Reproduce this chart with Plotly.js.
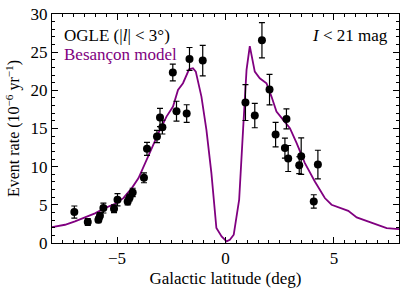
<!DOCTYPE html>
<html>
<head>
<meta charset="utf-8">
<script src="https://cdn.plot.ly/plotly-3.0.1.min.js"></script>
<style>html,body{margin:0;padding:0;background:#fff;}#chart{width:407px;height:294px;}</style>
</head>
<body>
<div id="chart"></div>
<script>
// OGLE measurements
const ogleLatitude = [-6.97,-6.35,-5.86,-5.79,-5.63,-5.14,-4.98,-4.51,-4.42,-4.28,-3.76,-3.62,-3.16,-3.02,-2.91,-2.43,-2.26,-1.79,-1.66,-1.05,0.92,1.35,1.68,2.03,2.31,2.74,2.81,2.89,3.40,3.49,4.07,4.26];
const ogleRate = [4.05,2.75,3.05,3.57,4.58,4.49,5.67,5.45,5.97,6.62,8.54,12.34,13.95,16.44,15.18,22.33,17.27,16.96,24.11,23.9,18.4,16.7,26.56,20.1,14.2,12.43,16.26,11.07,10.2,11.38,5.45,10.27];
const ogleError = [0.8,0.45,0.4,0.4,0.65,0.5,0.8,0.45,0.45,0.55,0.65,0.85,0.8,1.2,0.9,1.1,1.3,1.15,1.5,2.0,2.35,1.6,2.3,2.0,1.6,1.3,1.3,1.7,1.1,2.4,0.87,1.88];

// Besançon model curve
const modelLatitude = [-8.0,-7.4,-6.94,-6.48,-6.02,-5.56,-5.09,-4.71,-4.32,-4.01,-3.71,-3.49,-3.03,-2.72,-2.42,-2.19,-1.96,-1.68,-1.5,-1.37,-1.11,-0.88,-0.65,-0.42,-0.18,0.05,0.2,0.38,0.63,0.81,0.97,1.12,1.35,1.58,1.89,2.12,2.35,2.66,2.97,3.28,3.66,4.12,4.58,4.89,5.27,5.66,6.05,6.43,6.81,7.2,7.43,8.0];
const modelRate = [2.09,2.39,2.83,3.31,3.88,4.57,5.14,5.88,7.19,8.5,10.47,11.9,14.8,16.56,17.87,20.06,20.93,22.76,22.9,22.45,19.18,14.82,9.16,1.96,0.86,0.21,0.43,1.09,5.67,14.82,22.67,25.8,22.45,21.58,20.93,19.18,17.22,16.13,15.04,13.08,10.47,8.06,5.89,5.01,4.58,4.22,3.35,2.96,2.62,2.17,1.96,1.83];

const xTickVals = [-5, 0, 5];
const yTickVals = [0, 5, 10, 15, 20, 25, 30];

const FONT = "Liberation Serif, DejaVu Serif, serif";

const traces = [
  {
    x: modelLatitude, y: modelRate, type: 'scatter', mode: 'lines',
    line: {color: '#800080', width: 1.8}, name: 'Besançon model', hoverinfo: 'skip'
  },
  {
    x: ogleLatitude, y: ogleRate, type: 'scatter', mode: 'markers',
    marker: {color: '#000000', size: 8},
    error_y: {type: 'data', array: ogleError, visible: true, color: '#000000', thickness: 1.2, width: 3},
    name: 'OGLE'
  }
];

const axisCommon = {
  showline: true, linecolor: '#000', linewidth: 1, mirror: 'ticks',
  ticks: 'inside', ticklen: 6, tickwidth: 1, tickcolor: '#000',
  showgrid: false, zeroline: false,
  tickfont: {family: FONT, size: 17, color: '#000'}
};

const layout = {
  width: 407, height: 294,
  margin: {l: 52, r: 8, t: 14, b: 51},
  paper_bgcolor: '#fff', plot_bgcolor: '#fff',
  showlegend: false,
  font: {family: FONT, color: '#000'},
  xaxis: Object.assign({}, axisCommon, {
    range: [-8, 8], tickvals: xTickVals,
    minor: {dtick: 0.5, ticks: 'inside', ticklen: 3, tickcolor: '#000', tickwidth: 1, showgrid: false},
    title: {text: 'Galactic latitude (deg)', font: {family: FONT, size: 17, color: '#000'}, standoff: 4}
  }),
  yaxis: Object.assign({}, axisCommon, {
    range: [0, 30], tickvals: yTickVals,
    minor: {dtick: 1, ticks: 'inside', ticklen: 3, tickcolor: '#000', tickwidth: 1, showgrid: false},
    title: {text: 'Event rate (10<sup>−6</sup> yr<sup>−1</sup>)', font: {family: FONT, size: 16, color: '#000'}, standoff: 6}
  }),
  annotations: [
    {xref: 'paper', yref: 'paper', x: 0.03, y: 0.905, xanchor: 'left', yanchor: 'middle', showarrow: false,
     text: 'OGLE (|<i>l</i>| &lt; 3°)', font: {family: FONT, size: 17, color: '#000'}},
    {xref: 'paper', yref: 'paper', x: 0.03, y: 0.822, xanchor: 'left', yanchor: 'middle', showarrow: false,
     text: 'Besançon model', font: {family: FONT, size: 17, color: '#800080'}},
    {xref: 'paper', yref: 'paper', x: 0.975, y: 0.905, xanchor: 'right', yanchor: 'middle', showarrow: false,
     text: '<i>I</i> &lt; 21 mag', font: {family: FONT, size: 17, color: '#000'}}
  ]
};

Plotly.newPlot('chart', traces, layout, {displayModeBar: false, staticPlot: true});
</script>
</body>
</html>
